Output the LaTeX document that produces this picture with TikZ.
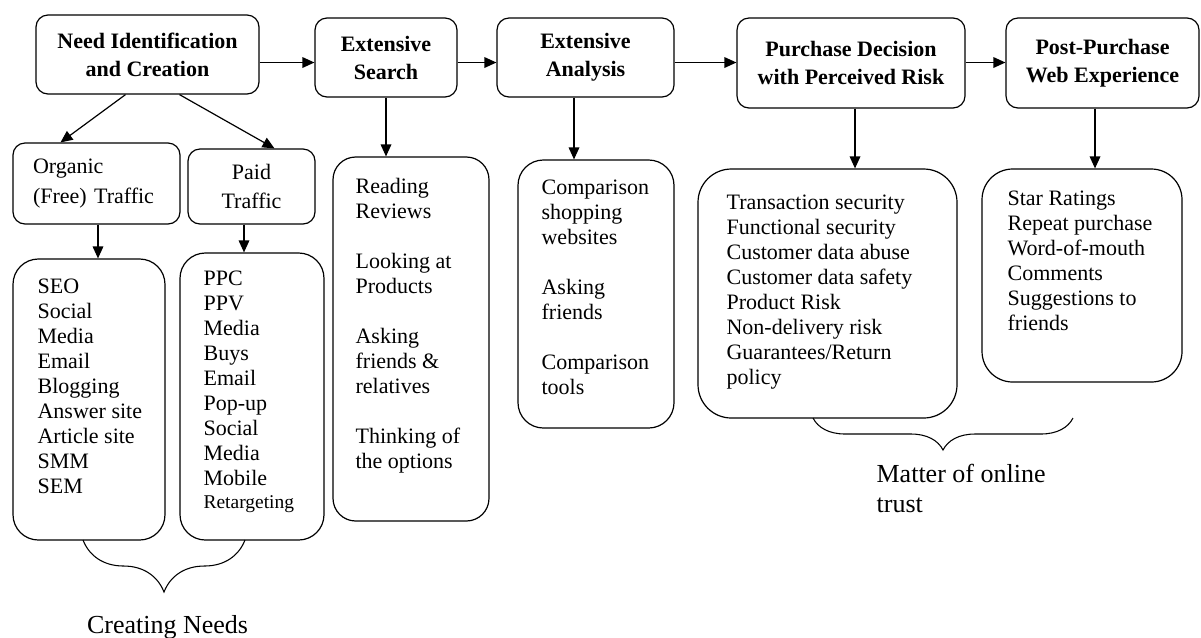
\documentclass[tikz,border=0pt]{standalone}
\usepackage{fontspec}
\setmainfont{Liberation Serif}
\usetikzlibrary{positioning,arrows.meta,calc,decorations.pathreplacing}
\newdimen\pxu
\pxu=0.75pt

\begin{document}
\begin{tikzpicture}[
  x=0.75pt,y=-0.75pt,
  line width=0.9pt,
  every node/.style={font=\fontsize{16.5}{18.75}\selectfont,inner sep=0pt},
  titlebox/.style={draw,rounded corners=9pt,align=center,
    font=\fontsize{16.5}{21}\selectfont\bfseries},
  trafficbox/.style={draw,rounded corners=9pt,
    font=\fontsize{16.5}{22}\selectfont},
  listbox/.style={draw,rounded corners=#1},
  listtext/.style={anchor=base west,align=left},
  bracetext/.style={font=\fontsize{19.5}{22.5}\selectfont},
  arr/.style={-{Triangle[length=9pt,width=8pt]}},
  groupbrace/.style={decorate,decoration={brace,amplitude=#1},line width=0.8pt}
]
\useasboundingbox (0,0) rectangle (1201,637);

% 上段：購買プロセス
\node[titlebox,minimum width=223\pxu,minimum height=79\pxu] (need) at (147.5,54.5)
  {Need Identification\\and Creation};
\node[titlebox,minimum width=142\pxu,minimum height=79\pxu] (search) at (386,57.5)
  {Extensive\\Search};
\node[titlebox,minimum width=177\pxu,minimum height=79\pxu] (analysis) at (585.5,57.5)
  {Extensive\\Analysis};
\node[titlebox,minimum width=228\pxu,minimum height=90\pxu] (purchase) at (851,63)
  {Purchase Decision\\with Perceived Risk};
\node[titlebox,minimum width=193\pxu,minimum height=90\pxu] (post) at (1102.5,63)
  {Post-Purchase\\Web Experience};

\coordinate (row) at (0,62.5);
\draw[arr] (need.east |- row) -- (search.west |- row);
\draw[arr] (search.east |- row) -- (analysis.west |- row);
\draw[arr] (analysis.east |- row) -- (purchase.west |- row);
\draw[arr] (purchase.east |- row) -- (post.west |- row);

% トラフィック
\node[trafficbox,minimum width=167\pxu,minimum height=81\pxu,
  text width=127\pxu,align=left] (organic) at (96.5,183.5)
  {Organic\\(Free) Traffic};
\node[trafficbox,minimum width=127\pxu,minimum height=75\pxu,
  align=center] (paid) at (251.5,186.5) {Paid\\Traffic};

\draw[arr] ($(need.south)+(-22,0)$) -- ($(organic.north)+(-36,0)$);
\draw[arr] ($(need.south)+(32,0)$) -- ($(paid.north)+(23,0)$);

% 下段の箱
\node[listbox=19pt,minimum width=152\pxu,minimum height=281\pxu] (seo) at (89,399.5) {};
\node[listbox=19pt,minimum width=144\pxu,minimum height=287\pxu] (ppc) at (252,396.5) {};
\node[listbox=17pt,minimum width=156\pxu,minimum height=364\pxu] (reading) at (411,339) {};
\node[listbox=19pt,minimum width=156\pxu,minimum height=268\pxu] (comparison) at (596,294) {};
\node[listbox=25pt,minimum width=259\pxu,minimum height=249\pxu] (risk) at (827.5,293.5) {};
\node[listbox=23pt,minimum width=200\pxu,minimum height=213\pxu] (stars) at (1082,275.5) {};

% 文字列（基準点は最終行のベースライン）
\node[listtext] (seotext) at (37,493)
  {SEO\\Social\\Media\\Email\\Blogging\\Answer site\\Article site\\SMM\\SEM};
\node[listtext] (ppctext) at (203,508)
  {PPC\\PPV\\Media\\Buys\\Email\\Pop-up\\Social\\Media\\Mobile\\[-2pt]%
   {\fontsize{14.6}{16}\selectfont Retargeting}};
\node[listtext] (readingtext) at (355,468)
  {Reading\\Reviews\\[18.75pt]Looking at\\Products\\[18.75pt]Asking\\friends \&\\relatives\\[18.75pt]Thinking of\\the options};
\node[listtext] (comparisontext) at (541,394)
  {Comparison\\shopping\\websites\\[18.75pt]Asking\\friends\\[18.75pt]Comparison\\tools};
\node[listtext] (risktext) at (726,384)
  {Transaction security\\Functional security\\Customer data abuse\\Customer data safety\\Product Risk\\Non-delivery risk\\Guarantees/Return\\policy};
\node[listtext] (starstext) at (1007,330)
  {Star Ratings\\Repeat purchase\\Word-of-mouth\\Comments\\Suggestions to\\friends};

\coordinate (organicout) at ($(organic.south)+(1.5,0)$);
\coordinate (paidout) at ($(paid.south)+(-7.5,0)$);
\coordinate (analysisout) at ($(analysis.south)+(-11.5,0)$);
\coordinate (purchaseout) at ($(purchase.south)+(4,0)$);
\coordinate (postout) at ($(post.south)+(-7.5,0)$);
\draw[arr] (organicout) -- (organicout |- seo.north);
\draw[arr] (paidout) -- (paidout |- ppc.north);
\draw[arr] (search.south) -- (search.south |- reading.north);
\draw[arr] (analysisout) -- (analysisout |- comparison.north);
\draw[arr] (purchaseout) -- (purchaseout |- risk.north);
\draw[arr] (postout) -- (postout |- stars.north);

% 括弧
\draw[groupbrace=39pt] (245,540) -- (83,540);
\node[bracetext,anchor=base] (creating) at (167.5,633) {Creating Needs};
\draw[groupbrace=24pt] (1073,418) -- (813,418);
\node[bracetext,anchor=base west,align=left] (trust) at (876,512)
  {Matter of online\\trust};

\end{tikzpicture}
\end{document}
